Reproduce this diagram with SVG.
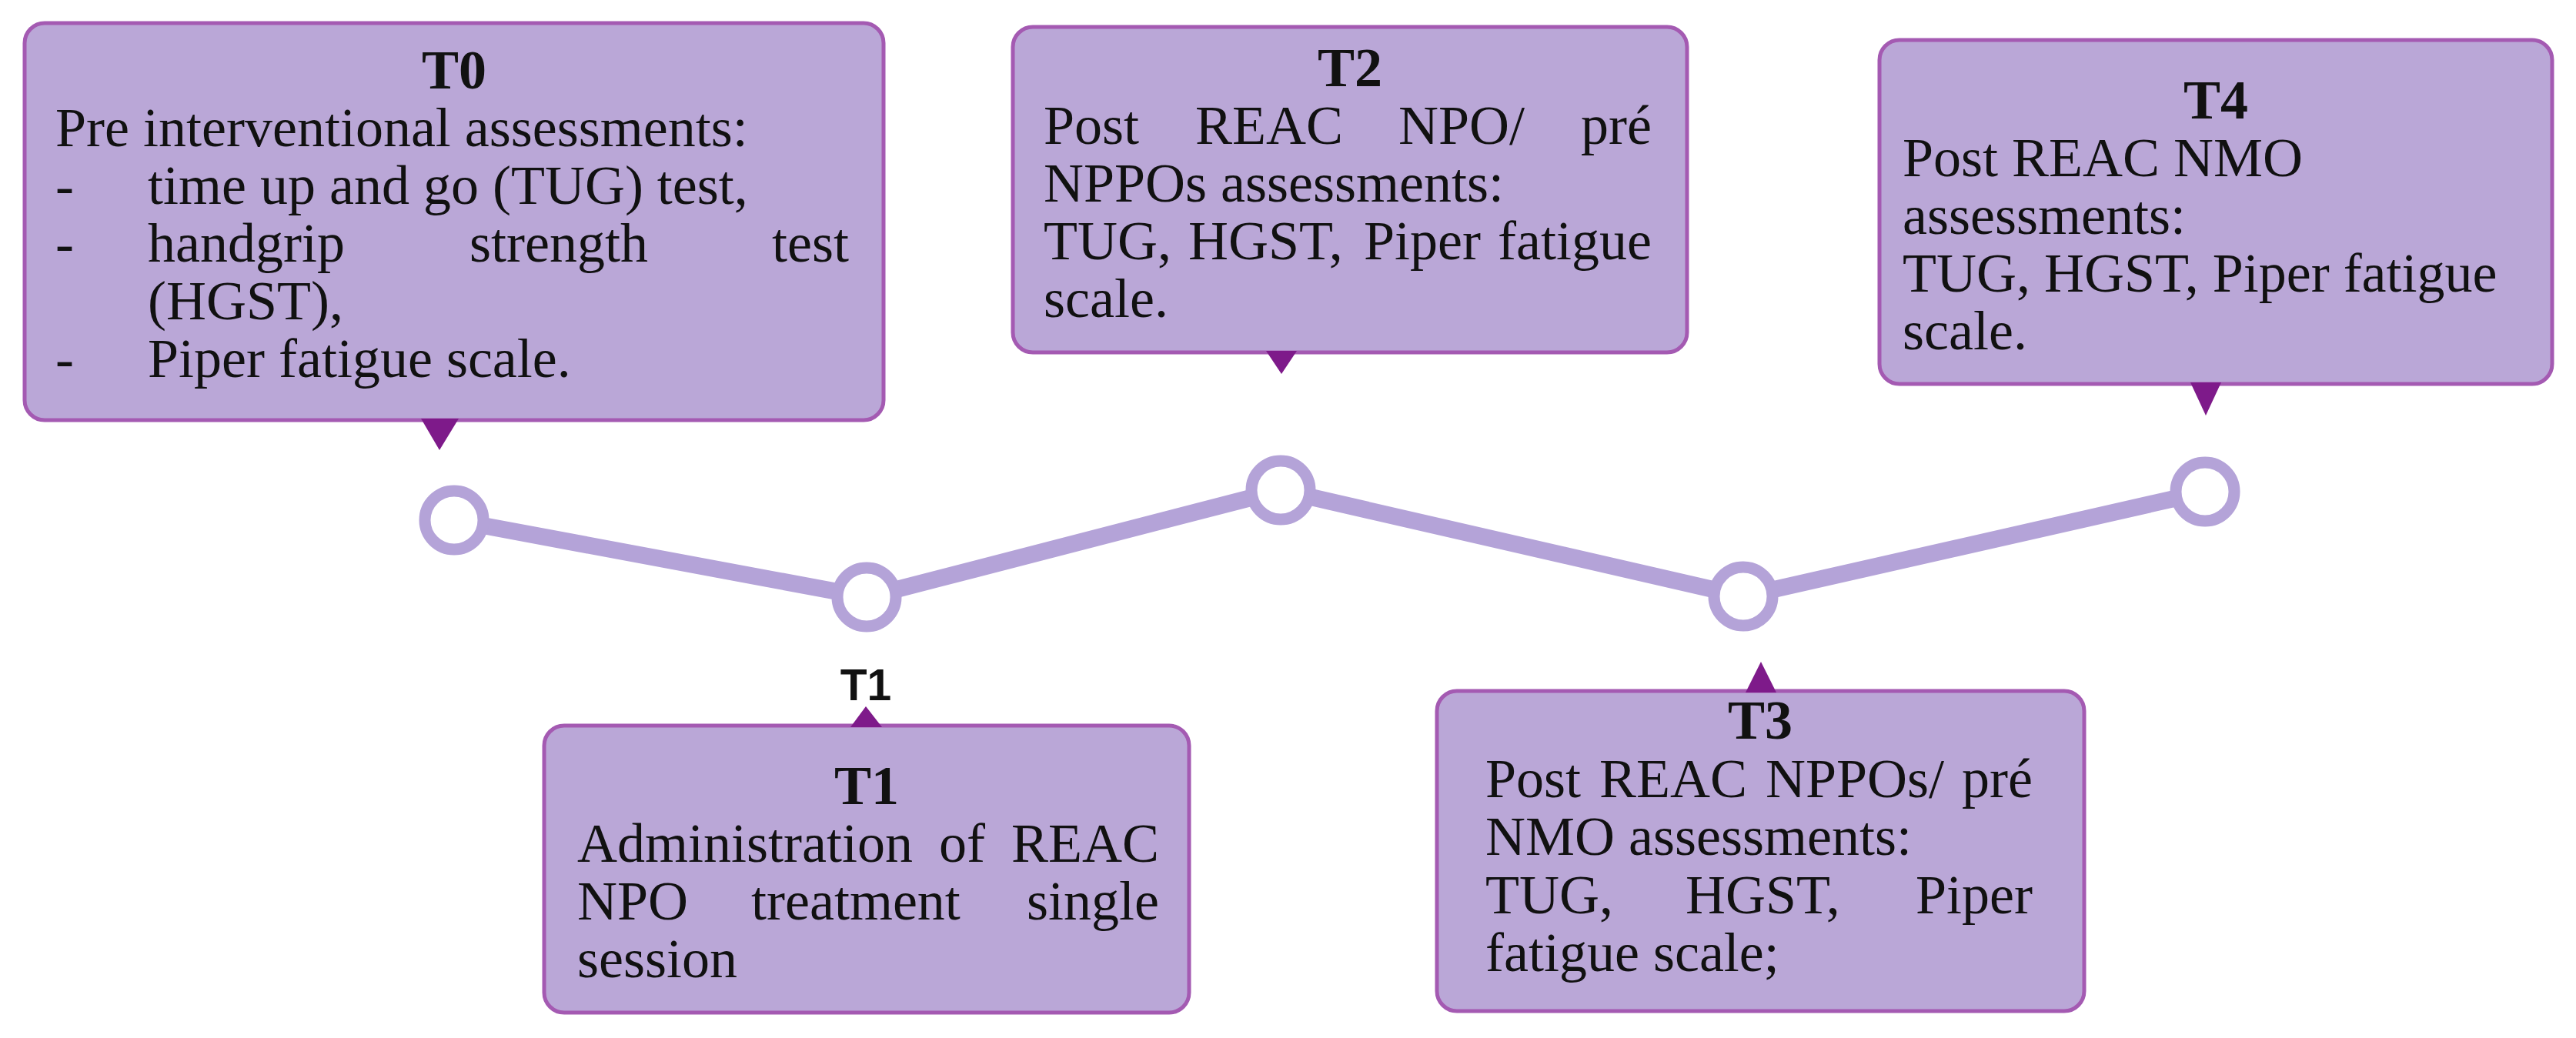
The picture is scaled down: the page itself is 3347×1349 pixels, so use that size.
<svg xmlns="http://www.w3.org/2000/svg" width="3347" height="1349" viewBox="0 0 3347 1349">
<style>
.box{fill:#BAA7D7;stroke:#A45AB2;stroke-width:5}
.ptr{fill:#7E1A8A}
.t{font-family:"Liberation Serif","Times New Roman",serif;font-size:72px;fill:#111}
.e{text-anchor:end}
.ttl{font-family:"Liberation Serif","Times New Roman",serif;font-size:72px;font-weight:bold;fill:#111;text-anchor:middle}
.lbl{font-family:"Liberation Sans",Arial,sans-serif;font-size:57px;font-weight:bold;fill:#111;text-anchor:middle}
.line{fill:none;stroke:#B4A3D8;stroke-width:22;stroke-linejoin:round}
.pt{fill:#fff;stroke:#B4A3D8;stroke-width:15}
</style>
<rect width="3347" height="1349" fill="#fff"/>
<g id="connectors">
<polyline class="line" points="590,676 1126,776 1664,637 2265,775 2865,639"/>
</g>
<g id="points">
<circle class="pt" cx="590" cy="676" r="38"/>
<circle class="pt" cx="1126" cy="776" r="38"/>
<circle class="pt" cx="1664" cy="637" r="38"/>
<circle class="pt" cx="2265" cy="775" r="38"/>
<circle class="pt" cx="2865" cy="639" r="38"/>
</g>
<g id="T0">
<rect class="box" x="32" y="30" width="1116" height="516" rx="26"/>
<polygon class="ptr" points="547,544 596,544 571,585"/>
<text class="ttl" x="590" y="115">T0</text>
<text class="t" x="72" y="190">Pre interventional assessments:</text>
<text class="t" y="265"><tspan x="72">-</tspan><tspan x="192">time up and go (TUG) test,</tspan></text>
<text class="t" y="340"><tspan x="72">-</tspan><tspan x="192">handgrip</tspan><tspan x="610">strength</tspan></text>
<text class="t e" x="1103" y="340">test</text>
<text class="t" x="192" y="415">(HGST),</text>
<text class="t" y="490"><tspan x="72">-</tspan><tspan x="192">Piper fatigue scale.</tspan></text>
</g>
<g id="T2">
<rect class="box" x="1316" y="35" width="876" height="423" rx="26"/>
<polygon class="ptr" points="1645,456 1685,456 1665,486"/>
<text class="ttl" x="1754" y="112">T2</text>
<text class="t" y="187"><tspan x="1356">Post</tspan><tspan x="1553">REAC</tspan><tspan x="1817">NPO/</tspan></text>
<text class="t e" x="2146" y="187">pré</text>
<text class="t" x="1356" y="262">NPPOs assessments:</text>
<text class="t" y="337"><tspan x="1356">TUG,</tspan><tspan x="1544">HGST,</tspan><tspan x="1772">Piper</tspan></text>
<text class="t e" x="2146" y="337">fatigue</text>
<text class="t" x="1356" y="412">scale.</text>
</g>
<g id="T4">
<rect class="box" x="2442" y="52" width="874" height="447" rx="26"/>
<polygon class="ptr" points="2846,497 2886,497 2866,540"/>
<text class="ttl" x="2879" y="154">T4</text>
<text class="t" x="2472" y="229">Post REAC NMO</text>
<text class="t" x="2472" y="304">assessments:</text>
<text class="t" x="2472" y="379">TUG, HGST, Piper fatigue</text>
<text class="t" x="2472" y="454">scale.</text>
</g>
<g id="T1-label">
<text class="lbl" x="1125" y="910">T1</text>
</g>
<g id="T1">
<rect class="box" x="707" y="943" width="838" height="373" rx="26"/>
<polygon class="ptr" points="1105,945 1146,945 1125,918"/>
<text class="ttl" x="1126" y="1045">T1</text>
<text class="t" y="1120"><tspan x="750">Administration</tspan><tspan x="1220">of</tspan></text>
<text class="t e" x="1506" y="1120">REAC</text>
<text class="t" y="1195"><tspan x="750">NPO</tspan><tspan x="976">treatment</tspan></text>
<text class="t e" x="1506" y="1195">single</text>
<text class="t" x="750" y="1270">session</text>
</g>
<g id="T3">
<rect class="box" x="1867" y="898" width="841" height="416" rx="26"/>
<polygon class="ptr" points="2268,900 2308,900 2288,860"/>
<text class="ttl" x="2287" y="960">T3</text>
<text class="t" y="1036"><tspan x="1930">Post</tspan><tspan x="2078">REAC</tspan><tspan x="2294">NPPOs/</tspan></text>
<text class="t e" x="2641" y="1036">pré</text>
<text class="t" x="1930" y="1111">NMO assessments:</text>
<text class="t" y="1187"><tspan x="1930">TUG,</tspan><tspan x="2190">HGST,</tspan></text>
<text class="t e" x="2641" y="1187">Piper</text>
<text class="t" x="1930" y="1262">fatigue scale;</text>
</g>
</svg>
